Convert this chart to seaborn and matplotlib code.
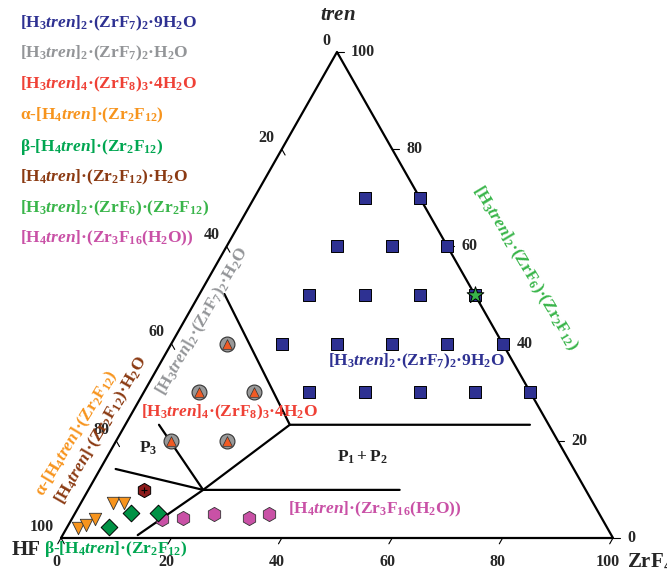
import numpy as np
import pandas as pd
import matplotlib
matplotlib.use('Agg')
import matplotlib.pyplot as plt
import seaborn as sns

# compositions in mol % : (tren, ZrF4), HF is the remainder
sq_tren = [70, 70, 60, 60, 60, 50, 50, 50, 50, 40, 40, 40, 40, 40, 30, 30, 30, 30, 30]
sq_zrf4 = [20, 30, 20, 30, 40, 20, 30, 40, 50, 20, 30, 40, 50, 60, 30, 40, 50, 60, 70]
tri_tren = [40, 30, 30, 20, 20]
tri_zrf4 = [10, 10, 20, 10, 20]
alpha_tren = [2.1, 2.7, 3.9, 7.2, 7.2]
alpha_zrf4 = [2.0, 3.2, 4.2, 5.8, 7.8]
beta_tren = [2.3, 5.1, 5.1]
beta_zrf4 = [7.6, 10.1, 15.0]
hyd_tren = [9.9]
hyd_zrf4 = [10.1]
pink_tren = [3.9, 4.1, 4.9, 4.1, 4.9]
pink_zrf4 = [16.3, 20.0, 25.2, 32.0, 35.2]
star_tren = [50]
star_zrf4 = [50]

# phase boundaries as (tren, ZrF4) points
boundaries = [
    [(50.2, 4.5), (23.3, 29.8), (23.3, 73.3)],
    [(23.3, 29.8), (9.9, 20.8), (0.6, 13.6)],
    [(23.3, 6.1), (9.9, 20.8)],
    [(14.2, 2.8), (9.9, 20.8), (9.9, 56.4)],
]

tick_values = [0, 20, 40, 60, 80, 100]

BLUE = '#2E3192'
GRAY = '#939598'
RED = '#EF4136'
ORANGE = '#F7941D'
GREEN = '#00A651'
BROWN = '#8B3A12'
LGREEN = '#39B54A'
PINK = '#C951A6'

legend_names = [
    (r"$[H_3\mathit{tren}]_2·(ZrF_7)_2·9H_2O$", BLUE),
    (r"$[H_3\mathit{tren}]_2·(ZrF_7)_2·H_2O$", GRAY),
    (r"$[H_3\mathit{tren}]_4·(ZrF_8)_3·4H_2O$", RED),
    (r"α-$[H_4\mathit{tren}]·(Zr_2F_{12})$", ORANGE),
    (r"β-$[H_4\mathit{tren}]·(Zr_2F_{12})$", GREEN),
    (r"$[H_4\mathit{tren}]·(Zr_2F_{12})·H_2O$", BROWN),
    (r"$[H_3\mathit{tren}]_2·(ZrF_6)·(Zr_2F_{12})$", LGREEN),
    (r"$[H_4\mathit{tren}]·(Zr_3F_{16}(H_2O))$", PINK),
]


def tern(t, z):
    t = np.asarray(t, dtype=float) / 100
    z = np.asarray(z, dtype=float) / 100
    return z + t / 2, t * np.sqrt(3) / 2


def to_df(t, z):
    x, y = tern(t, z)
    return pd.DataFrame({'x': np.atleast_1d(x), 'y': np.atleast_1d(y)})


sns.set_style('white')
plt.rcParams['font.family'] = ['Liberation Serif', 'DejaVu Serif']
plt.rcParams['font.weight'] = 'bold'
plt.rcParams['mathtext.fontset'] = 'custom'
plt.rcParams['mathtext.rm'] = 'Liberation Serif:bold'
plt.rcParams['mathtext.it'] = 'Liberation Serif:italic:bold'
plt.rcParams['mathtext.bf'] = 'Liberation Serif:bold'
plt.rcParams['mathtext.default'] = 'rm'

fig = plt.figure(figsize=(6.67, 5.72), dpi=100)
ax = fig.add_axes([0, 0, 1, 1])
h = np.sqrt(3) / 2
ysc = 486 / h
ax.set_xlim(-61 / 552, 606 / 552)
ax.set_ylim(-34 / ysc, h + 52 / ysc)
ax.axis('off')

# triangle frame
fx, fy = tern([0, 0, 100, 0], [0, 100, 0, 0])
ax.plot(fx, fy, color='black', lw=1.6, zorder=2)

for line in boundaries:
    lx, ly = tern([p[0] for p in line], [p[1] for p in line])
    ax.plot(lx, ly, color='black', lw=1.6, zorder=2)

# ticks and tick labels
tl = 0.012
for v in tick_values:
    # bottom: ZrF4
    bx, by = tern(0, v)
    ax.plot([bx, bx - 0.5 * tl], [by, by - h * tl], color='black', lw=0.8)
    ax.annotate(str(v), (bx, by), xytext=(-3.5, -17), textcoords='offset points',
                ha='center', va='center', fontsize=11.5)
    # right: tren
    rx, ry = tern(v, 100 - v)
    ax.plot([rx, rx + tl], [ry, ry], color='black', lw=0.8)
    ax.annotate(str(v), (rx, ry), xytext=(10, 0), textcoords='offset points',
                ha='left', va='center', fontsize=11.5)
    # left: HF
    lx, ly = tern(100 - v, 0)
    ax.plot([lx, lx + 0.5 * tl], [ly, ly - h * tl], color='black', lw=0.8)
    ax.annotate(str(v), (lx, ly), xytext=(-5, 8), textcoords='offset points',
                ha='right', va='center', fontsize=11.5)

# data points
sns.scatterplot(data=to_df(sq_tren, sq_zrf4), x='x', y='y', marker='s', s=72,
                color=BLUE, edgecolor='black', linewidth=0.7, ax=ax, zorder=4)
sns.scatterplot(data=to_df(star_tren, star_zrf4), x='x', y='y', marker='*', s=160,
                color=LGREEN, edgecolor='black', linewidth=0.7, ax=ax, zorder=5)
sns.scatterplot(data=to_df(tri_tren, tri_zrf4), x='x', y='y', marker='o', s=115,
                color='#999999', edgecolor='#333333', linewidth=0.8, ax=ax, zorder=4)
sns.scatterplot(data=to_df(tri_tren, tri_zrf4), x='x', y='y', marker='^', s=48,
                color='#F15A24', edgecolor='#333333', linewidth=0.5, ax=ax, zorder=5)
sns.scatterplot(data=to_df(pink_tren, pink_zrf4), x='x', y='y', marker='h', s=105,
                color=PINK, edgecolor='#333333', linewidth=0.6, ax=ax, zorder=3)
sns.scatterplot(data=to_df(alpha_tren, alpha_zrf4), x='x', y='y', marker='v', s=80,
                color=ORANGE, edgecolor='#333333', linewidth=0.6, ax=ax, zorder=4)
sns.scatterplot(data=to_df(beta_tren, beta_zrf4), x='x', y='y', marker='D', s=72,
                color='#009245', edgecolor='black', linewidth=0.7, ax=ax, zorder=4)
sns.scatterplot(data=to_df(hyd_tren, hyd_zrf4), x='x', y='y', marker='h', s=105,
                color='#8B1A1A', edgecolor='black', linewidth=0.7, ax=ax, zorder=4)
sns.scatterplot(data=to_df(hyd_tren, hyd_zrf4), x='x', y='y', marker='+', s=20,
                color='black', linewidth=0.8, ax=ax, zorder=5)

# region labels
fs = 12.5


def label(t, z, s, color, rot=0):
    x, y = tern(t, z)
    ax.text(x, y, s, color=color, fontsize=fs, ha='center', va='center',
            rotation=rot, rotation_mode='anchor', zorder=6)


label(44.7, 3.3, r"$[H_3\mathit{tren}]_2·(ZrF_7)_2·H_2O$", GRAY, 60)
label(21.6, -7.9, r"α-$[H_4\mathit{tren}]·(Zr_2F_{12})$", ORANGE, 59)
label(22.2, -3.7, r"$[H_4\mathit{tren}]·(Zr_2F_{12})·H_2O$", BROWN, 60)
label(55.6, 56.2, r"$[H_3\mathit{tren}]_2·(ZrF_6)·(Zr_2F_{12})$", LGREEN, -59)
label(-2.3, 11.1, r"β-$[H_4\mathit{tren}]·(Zr_2F_{12})$", GREEN)
label(25.9, 17.6, r"$[H_3\mathit{tren}]_4·(ZrF_8)_3·4H_2O$", RED)
label(36.4, 46.2, r"$[H_3\mathit{tren}]_2·(ZrF_7)_2·9H_2O$", BLUE)
label(5.8, 54.0, r"$[H_4\mathit{tren}]·(Zr_3F_{16}(H_2O))$", PINK)
label(18.5, 6.6, r"$P_3$", '#222222')
label(16.7, 46.2, r"$P_1 + P_2$", '#222222')

# corner labels
W, H = 667, 572
fig.text(338 / W, 1 - 15 / H, r"$\mathit{tren}$", fontsize=15, ha='center', va='center')
fig.text(41 / W, 1 - 550 / H, "HF", fontsize=15, ha='right', va='center')
fig.text(627 / W, 1 - 562 / H, r"$ZrF_4$", fontsize=15, ha='left', va='center')

# colour key
key_y = [23, 53, 84, 115, 147, 177, 208, 238]
for (name, col), yy in zip(legend_names, key_y):
    fig.text(20 / W, 1 - yy / H, name, color=col, fontsize=fs, ha='left', va='center')

fig.savefig('out.png', dpi=100)
